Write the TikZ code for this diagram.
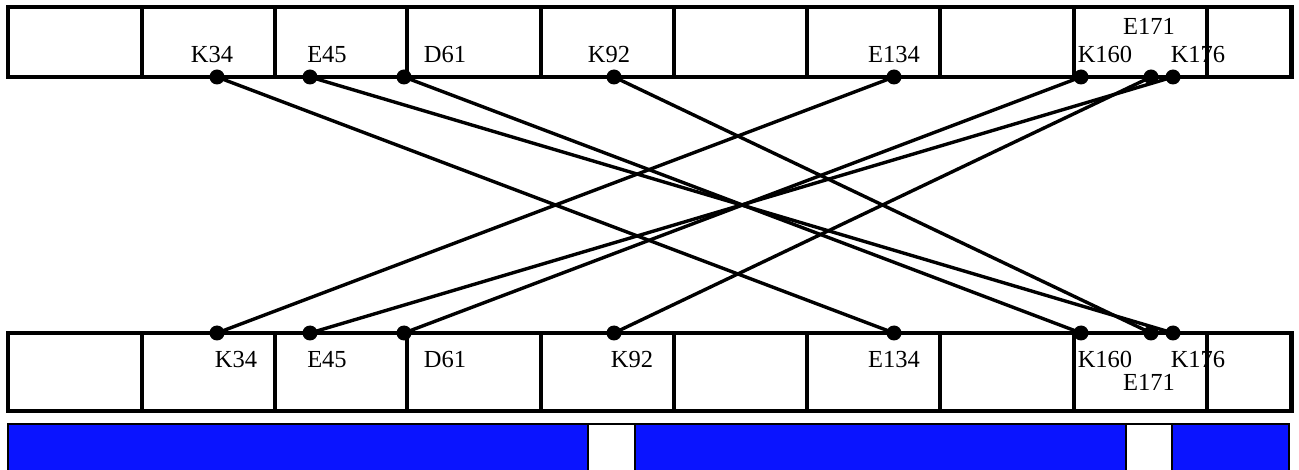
\documentclass[tikz,border=0pt]{standalone}
\usepackage{fontspec}
\setmainfont{Liberation Serif}
\begin{document}
\begin{tikzpicture}[x=1pt,y=-1pt,
  frame/.style={line width=3.2pt, line join=miter},
  link/.style={line width=3.4pt, line cap=round},
  dot/.style={circle, fill=black, inner sep=0pt, minimum size=15pt},
  lab/.style={anchor=base, inner sep=0pt, font=\fontsize{24.5}{28}\selectfont},
  seg/.style={fill=barblue, draw=black, line width=2.4pt}]
\definecolor{barblue}{RGB}{10,20,255}
\useasboundingbox (0,0) rectangle (1299,470);

% upper and lower segmented bars
\foreach \y/\h in {7/77, 333/411}{
  \draw[frame] (8,\y) rectangle (1292,\h);
  \draw[line width=5pt] (1291,\y) -- (1291,\h);
  \foreach \x in {142,275,407,541,674,807,940,1074,1207}
    \draw[frame] (\x,\y) -- (\x,\h);
}

% domain bar with two gaps (runs off the lower edge)
\draw[seg] (8,424) rectangle (588,476);
\draw[draw=black, line width=2.4pt] (588,424) rectangle (635,476);
\draw[seg] (635,424) rectangle (1126,476);
\draw[draw=black, line width=2.4pt] (1126,424) rectangle (1172,476);
\draw[seg] (1172,424) rectangle (1289,476);

% residue positions
\foreach \n/\x in {K34/217, E45/310, D61/404, K92/614, E134/894, K160/1081, E171/1151, K176/1173}{
  \node[dot] (t\n) at (\x,77) {};
  \node[dot] (b\n) at (\x,333) {};
}

% upper labels
\node[lab] (ltK34) at (212,63) {K34};
\node[lab] (ltE45) at (327,63) {E45};
\node[lab] (ltD61) at (445,63) {D61};
\node[lab] (ltK92) at (609,63) {K92};
\node[lab] (ltE134) at (894,63) {E134};
\node[lab] (ltK160) at (1105,63) {K160};
\node[lab] (ltE171) at (1149,35) {E171};
\node[lab] (ltK176) at (1198,63) {K176};

% lower labels
\node[lab] (lbK34) at (236,367) {K34};
\node[lab] (lbE45) at (327,367) {E45};
\node[lab] (lbD61) at (445,367) {D61};
\node[lab] (lbK92) at (632,367) {K92};
\node[lab] (lbE134) at (894,367) {E134};
\node[lab] (lbK160) at (1105,367) {K160};
\node[lab] (lbE171) at (1149,391) {E171};
\node[lab] (lbK176) at (1198,367) {K176};

% salt-bridge links between the two chains
\draw[link] (tK34.center) -- (bE134.center);
\draw[link] (tE45.center) -- (bK176.center);
\draw[link] (tD61.center) -- (bK160.center);
\draw[link] (tK92.center) -- (bE171.center);
\draw[link] (tE134.center) -- (bK34.center);
\draw[link] (tK160.center) -- (bD61.center);
\draw[link] (tE171.center) -- (bK92.center);
\draw[link] (tK176.center) -- (bE45.center);
\end{tikzpicture}
\end{document}
